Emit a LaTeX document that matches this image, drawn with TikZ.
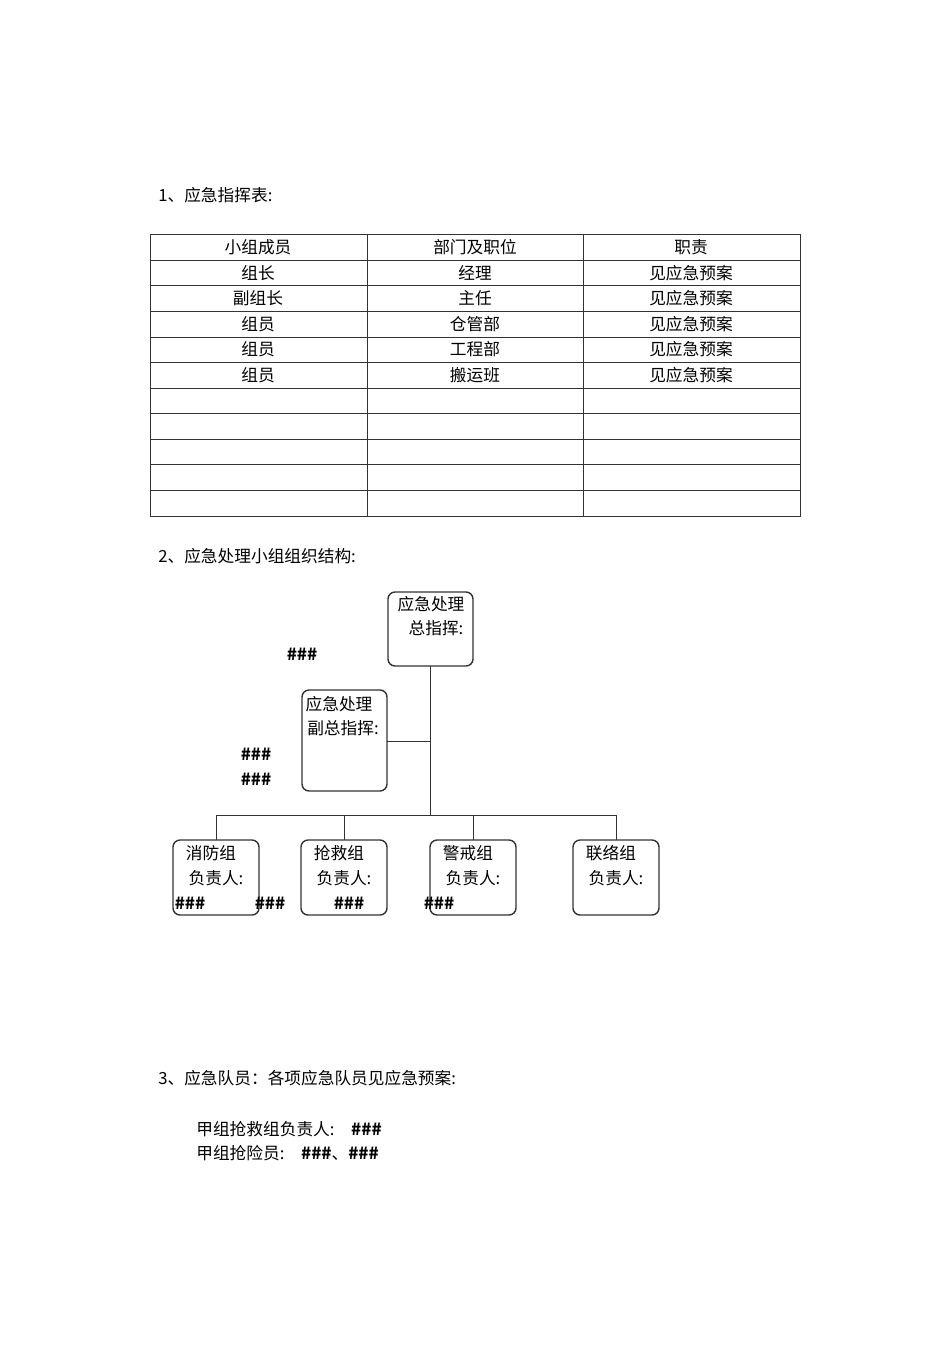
\documentclass[tikz,border=0pt]{standalone}
\usepackage{fontspec}
\setmainfont{Noto Sans CJK SC}
\usetikzlibrary{positioning}
\tikzset{
  cell/.style={font=\fontsize{9.5pt}{11pt}\selectfont, inner sep=0pt},
  orgbox/.style={draw=black!80, thick, rounded corners=4pt, anchor=north west},
  lbl/.style={font=\fontsize{9.5pt}{11pt}\selectfont, inner sep=0pt, anchor=west},
  hash/.style={font=\fontsize{9.5pt}{11pt}\selectfont\bfseries, inner sep=0pt}
}
\begin{document}
\begin{tikzpicture}[x=0.02cm,y=-0.02cm]
\useasboundingbox (0,0) rectangle (950,1345);

% section 1
\node[lbl] (h1) at (158,195) {1、应急指挥表:};
\draw[black!80] (150,234) rectangle (800,516);
\draw[black!80] (367,234) -- (367,516) (583,234) -- (583,516);
\foreach \y in {260,285,311,337,362,388,413,439,464,490}
  \draw[black!80] (150,\y) -- (800,\y);
\foreach \a/\b/\c [count=\i] in {小组成员/部门及职位/职责, 组长/经理/见应急预案, 副组长/主任/见应急预案,
  组员/仓管部/见应急预案, 组员/工程部/见应急预案, 组员/搬运班/见应急预案} {
  \node[cell] at (258,{221.5+\i*25.6}) {\a};
  \node[cell] at (475,{221.5+\i*25.6}) {\b};
  \node[cell] at (691,{221.5+\i*25.6}) {\c};
}

% section 2
\node[lbl] (h2) at (158,556) {2、应急处理小组组织结构:};
\draw[orgbox] (388,592) rectangle (473,666);
\node[cell] (top) at (431,604) {应急处理};
\node[cell] at (436,628) {总指挥:};
\draw[orgbox] (302,690) rectangle (387,791);
\node[cell] (vice) at (339,704) {应急处理};
\node[cell] at (343,728) {副总指挥:};
\node[hash] at (302,654) {\#\#\#};
\node[hash] at (256,754) {\#\#\#};
\node[hash] at (256,779) {\#\#\#};

\coordinate (trunk) at (430,666);
\coordinate (hub) at (430,815);
\draw[black!80] (trunk) -- (hub);
\draw[black!80] (387,741) -- (430,741);
\draw[black!80] (216,815) -- (616,815);
\foreach \x/\cx/\t in {173/216/消防组, 301/344/抢救组, 430/473/警戒组, 573/616/联络组} {
  \draw[black!80] (\cx,815) -- (\cx,840);
  \draw[orgbox] (\x,840) rectangle ({\x+86},915);
  \node[cell] at ({\cx-5},853) {\t};
  \node[cell] at (\cx,878) {负责人:};
}
\node[hash] at (190,903) {\#\#\#};
\node[hash] at (270,903) {\#\#\#};
\node[hash] at (349,903) {\#\#\#};
\node[hash] at (439,903) {\#\#\#};

% section 3
\node[lbl] (h3) at (158,1078) {3、应急队员：各项应急队员见应急预案:};
\node[lbl] at (196,1129) {甲组抢救组负责人:\quad \textbf{\#\#\#}};
\node[lbl] at (196,1153) {甲组抢险员:\quad \textbf{\#\#\#}、\textbf{\#\#\#}};
\end{tikzpicture}
\end{document}
